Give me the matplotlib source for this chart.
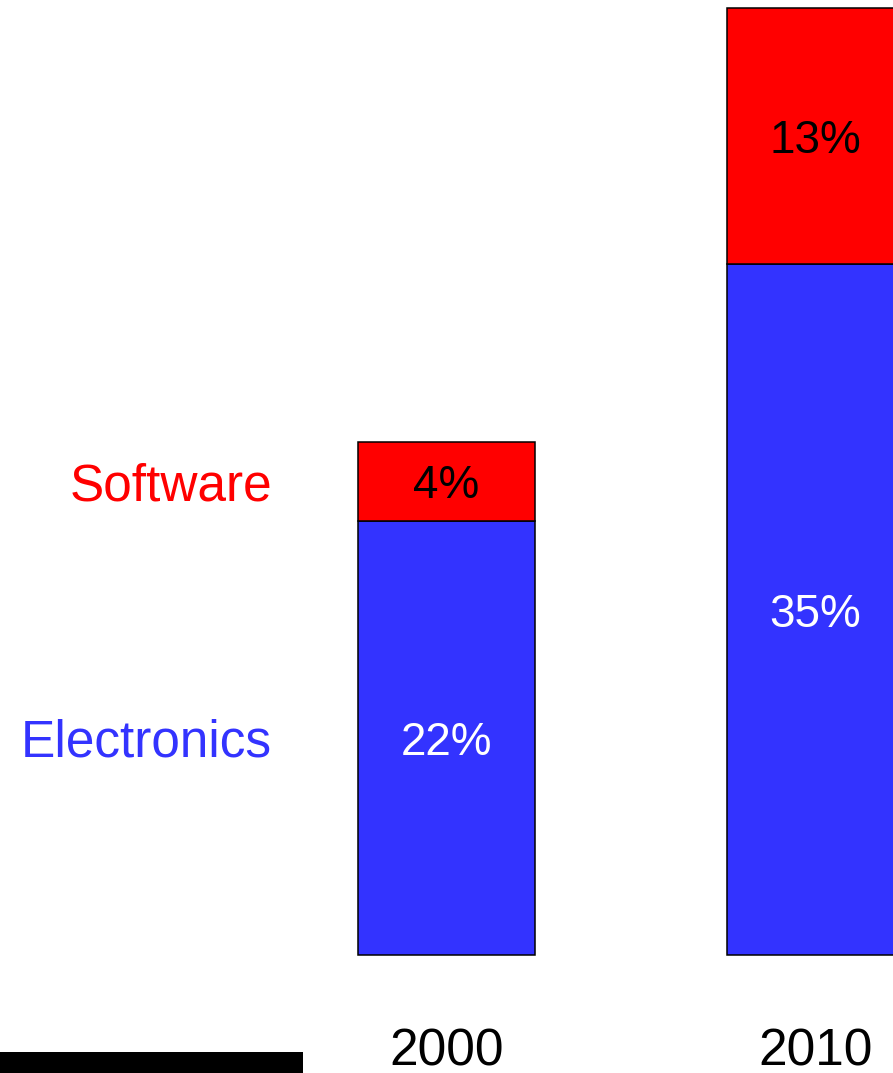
import matplotlib
matplotlib.use("Agg")
import matplotlib.pyplot as plt
from matplotlib.patches import Rectangle

plt.rcParams['font.family'] = ['Liberation Sans', 'DejaVu Sans']

years = ['2000', '2010']
electronics = [22, 35]
software = [4, 13]
series_names = ['Electronics', 'Software']

blue = '#3333FF'
red = '#FF0000'

fig = plt.figure(figsize=(8.93, 10.73), dpi=100)
ax = fig.add_axes([0, 0, 1, 1])

x = range(len(years))
width = 0.48
ax.bar(x, electronics, width, color=blue, edgecolor='black', linewidth=1.1)
ax.bar(x, software, width, bottom=electronics, color=red, edgecolor='black', linewidth=1.1)

# percent labels inside segments
for i in x:
    ax.text(i, electronics[i] / 2, '%d%%' % electronics[i], color='white',
            ha='center', va='center_baseline', fontsize=33)
    ax.text(i, electronics[i] + software[i] / 2, '%d%%' % software[i], color='black',
            ha='center', va='center_baseline', fontsize=33)
    ax.text(i, -4.66, years[i], color='black', ha='center', va='center_baseline', fontsize=37)

# series names on the left, level with the first bar
ax.text(-0.473, electronics[0] / 2, series_names[0], color=blue,
        ha='right', va='center_baseline', fontsize=37)
ax.text(-0.473, electronics[0] + software[0] / 2, series_names[1], color=red,
        ha='right', va='center_baseline', fontsize=37)

ax.set_xlim(-1.21, 1.21)
ax.set_ylim(-5.98, 48.40)
ax.axis('off')

# black strip in the bottom left corner
fig.patches.append(Rectangle((0, 0), 303 / 893, 21 / 1073, transform=fig.transFigure,
                             facecolor='black', edgecolor='none'))

fig.savefig('out.png', dpi=100)
